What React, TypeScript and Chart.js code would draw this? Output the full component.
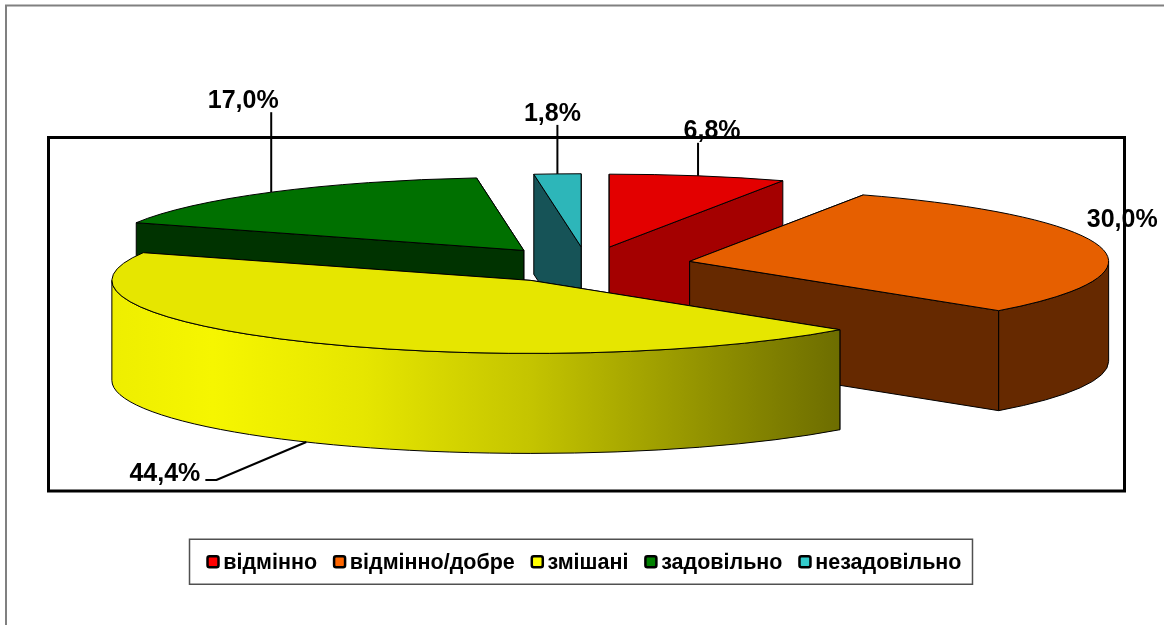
import React, { useEffect, useRef } from "react";
import { Chart, registerables } from "chart.js";

Chart.register(...registerables);

const categories = ["відмінно", "відмінно/добре", "змішані", "задовільно", "незадовільно"];
const values = [6.8, 30.0, 44.4, 17.0, 1.8];
const topColors = ["#E30000", "#E65F00", "#E6E600", "#007000", "#2DB6B9"];
const wallColors = ["#A40000", "#662900", "#E6E600", "#003300", "#165357"];
const legendColors = ["#FF0000", "#FF6600", "#FFFF00", "#008000", "#33CCCC"];

// Projection of the pie onto the page
const CX = 587;
const CY = 265;
const RX = 419;
const RY = 73;
const DEPTH = 100;
const EXPLODE = 0.25;

// Label placement relative to the rim point at each slice's mid angle
const labelOffsets = [
  { dx: 14, dy: -45, leader: -33 },
  { dx: 22, dy: -27, leader: 0 },
  { dx: -141.5, dy: 32, elbow: [-90, 38], end: [-101, 38] },
  { dx: -28, dy: -91, leader: -80 },
  { dx: -5, dy: -60, leader: -49 },
];

const FONT = "'Liberation Sans', Arial, sans-serif";
const fmt = (v: number) => v.toFixed(1).replace(".", ",") + "%";

const pie3d = {
  id: "pie3d",
  beforeDraw(chart: any) {
    const { ctx } = chart;
    ctx.save();
    ctx.strokeStyle = "#808080";
    ctx.lineWidth = 2;
    ctx.beginPath();
    ctx.moveTo(6, 625);
    ctx.lineTo(6, 5.5);
    ctx.lineTo(1164, 5.5);
    ctx.stroke();
    ctx.strokeStyle = "#000000";
    ctx.lineWidth = 3;
    ctx.strokeRect(48.5, 137.5, 1076, 353.5);
    ctx.restore();
  },
  beforeDatasetsDraw(chart: any) {
    const { ctx } = chart;
    const arcs = chart.getDatasetMeta(0).data;
    const slices = arcs.map((arc: any, i: number) => {
      const m = (arc.startAngle + arc.endAngle) / 2;
      return {
        arc,
        i,
        m,
        a0: arc.startAngle,
        a1: arc.endAngle,
        cx: CX + EXPLODE * RX * Math.cos(m),
        cy: CY + EXPLODE * RY * Math.sin(m),
      };
    });
    const order = [...slices].sort((p: any, q: any) => p.cy - q.cy);
    ctx.save();
    ctx.lineWidth = 1;
    ctx.strokeStyle = "#000000";
    ctx.lineJoin = "round";
    for (const s of order) {
      let wall: any = wallColors[s.i];
      const face = (a: number) => {
        const x = s.cx + RX * Math.cos(a);
        const y = s.cy + RY * Math.sin(a);
        ctx.beginPath();
        ctx.moveTo(s.cx, s.cy);
        ctx.lineTo(x, y);
        ctx.lineTo(x, y + DEPTH);
        ctx.lineTo(s.cx, s.cy + DEPTH);
        ctx.closePath();
        ctx.fillStyle = wall;
        ctx.fill();
        ctx.stroke();
      };
      // the cut face whose rim lies further back is painted first
      [s.a0, s.a1]
        .sort((p: number, q: number) => Math.sin(p) - Math.sin(q))
        .forEach(face);
      const from = Math.max(s.a0, 0);
      const to = Math.min(s.a1, Math.PI);
      if (to > from) {
        if (s.i === 2) {
          const g = ctx.createLinearGradient(s.cx - RX, 0, s.cx + RX, 0);
          g.addColorStop(0, "#EEEE00");
          g.addColorStop(0.12, "#F6F600");
          g.addColorStop(0.3, "#E6E600");
          g.addColorStop(0.5, "#C4C400");
          g.addColorStop(0.72, "#8F8F00");
          g.addColorStop(0.9, "#666600");
          g.addColorStop(1, "#5C5C00");
          wall = g;
        }
        ctx.beginPath();
        ctx.ellipse(s.cx, s.cy, RX, RY, 0, from, to);
        ctx.ellipse(s.cx, s.cy + DEPTH, RX, RY, 0, to, from, true);
        ctx.closePath();
        ctx.fillStyle = wall;
        ctx.fill();
        ctx.stroke();
      }
      const R = s.arc.outerRadius;
      ctx.save();
      ctx.translate(s.cx, s.cy);
      ctx.scale(RX / R, RY / R);
      ctx.translate(-s.arc.x, -s.arc.y);
      s.arc.draw(ctx);
      ctx.restore();
      ctx.beginPath();
      ctx.moveTo(s.cx, s.cy);
      ctx.ellipse(s.cx, s.cy, RX, RY, 0, s.a0, s.a1);
      ctx.closePath();
      ctx.stroke();
    }
    // leaders and data labels
    ctx.lineWidth = 2;
    ctx.fillStyle = "#000000";
    ctx.font = `bold 25px ${FONT}`;
    ctx.textAlign = "center";
    ctx.textBaseline = "middle";
    for (const s of slices) {
      const o: any = labelOffsets[s.i];
      const rx = s.cx + RX * Math.cos(s.m);
      let ry = s.cy + RY * Math.sin(s.m);
      if (Math.sin(s.m) > 0.5) ry += DEPTH;
      if (o.elbow) {
        ctx.beginPath();
        ctx.moveTo(rx, ry);
        ctx.lineTo(rx + o.elbow[0], ry + o.elbow[1]);
        ctx.lineTo(rx + o.end[0], ry + o.end[1]);
        ctx.stroke();
      } else if (o.leader) {
        ctx.beginPath();
        ctx.moveTo(rx, ry);
        ctx.lineTo(rx, ry + o.leader);
        ctx.stroke();
      }
      ctx.fillText(fmt(values[s.i]), rx + o.dx, ry + o.dy);
    }
    ctx.restore();
    return false;
  },
  afterDraw(chart: any) {
    const { ctx, legend } = chart;
    const boxes = legend.legendHitBoxes;
    if (!boxes || !boxes.length) return;
    const first = boxes[0];
    const last = boxes[boxes.length - 1];
    const mid = first.top + first.height / 2;
    ctx.save();
    ctx.strokeStyle = "#505050";
    ctx.lineWidth = 1.5;
    ctx.strokeRect(first.left - 17, mid - 24, last.left + last.width - first.left + 28, 45);
    ctx.strokeStyle = "#000000";
    ctx.lineWidth = 2.5;
    boxes.forEach((b: any, i: number) => {
      ctx.beginPath();
      ctx.roundRect(b.left + 1, mid - 7, 11, 11, 2);
      ctx.fillStyle = legendColors[i];
      ctx.fill();
      ctx.stroke();
    });
    ctx.restore();
  },
};

export default function App() {
  const ref = useRef<HTMLCanvasElement>(null);
  useEffect(() => {
    document.body.style.margin = "0";
    const chart = new Chart(ref.current!, {
      type: "pie",
      data: {
        labels: categories,
        datasets: [{ data: values, backgroundColor: topColors, borderWidth: 0 }],
      },
      options: {
        responsive: false,
        animation: false,
        layout: { padding: { left: 4, right: 0, top: 0, bottom: 41 } },
        plugins: {
          tooltip: { enabled: false },
          legend: {
            position: "bottom",
            labels: {
              boxWidth: 6,
              boxHeight: 11,
              padding: 16,
              color: "#000000",
              font: { family: FONT, size: 21.5, weight: "bold" },
              generateLabels: () =>
                categories.map((text, index) => ({
                  text,
                  index,
                  fillStyle: "transparent",
                  strokeStyle: "transparent",
                  lineWidth: 0,
                })),
            },
          },
        },
      },
      plugins: [pie3d],
    } as any);
    return () => chart.destroy();
  }, []);
  return <canvas ref={ref} width={1164} height={625} style={{ display: "block" }} />;
}
